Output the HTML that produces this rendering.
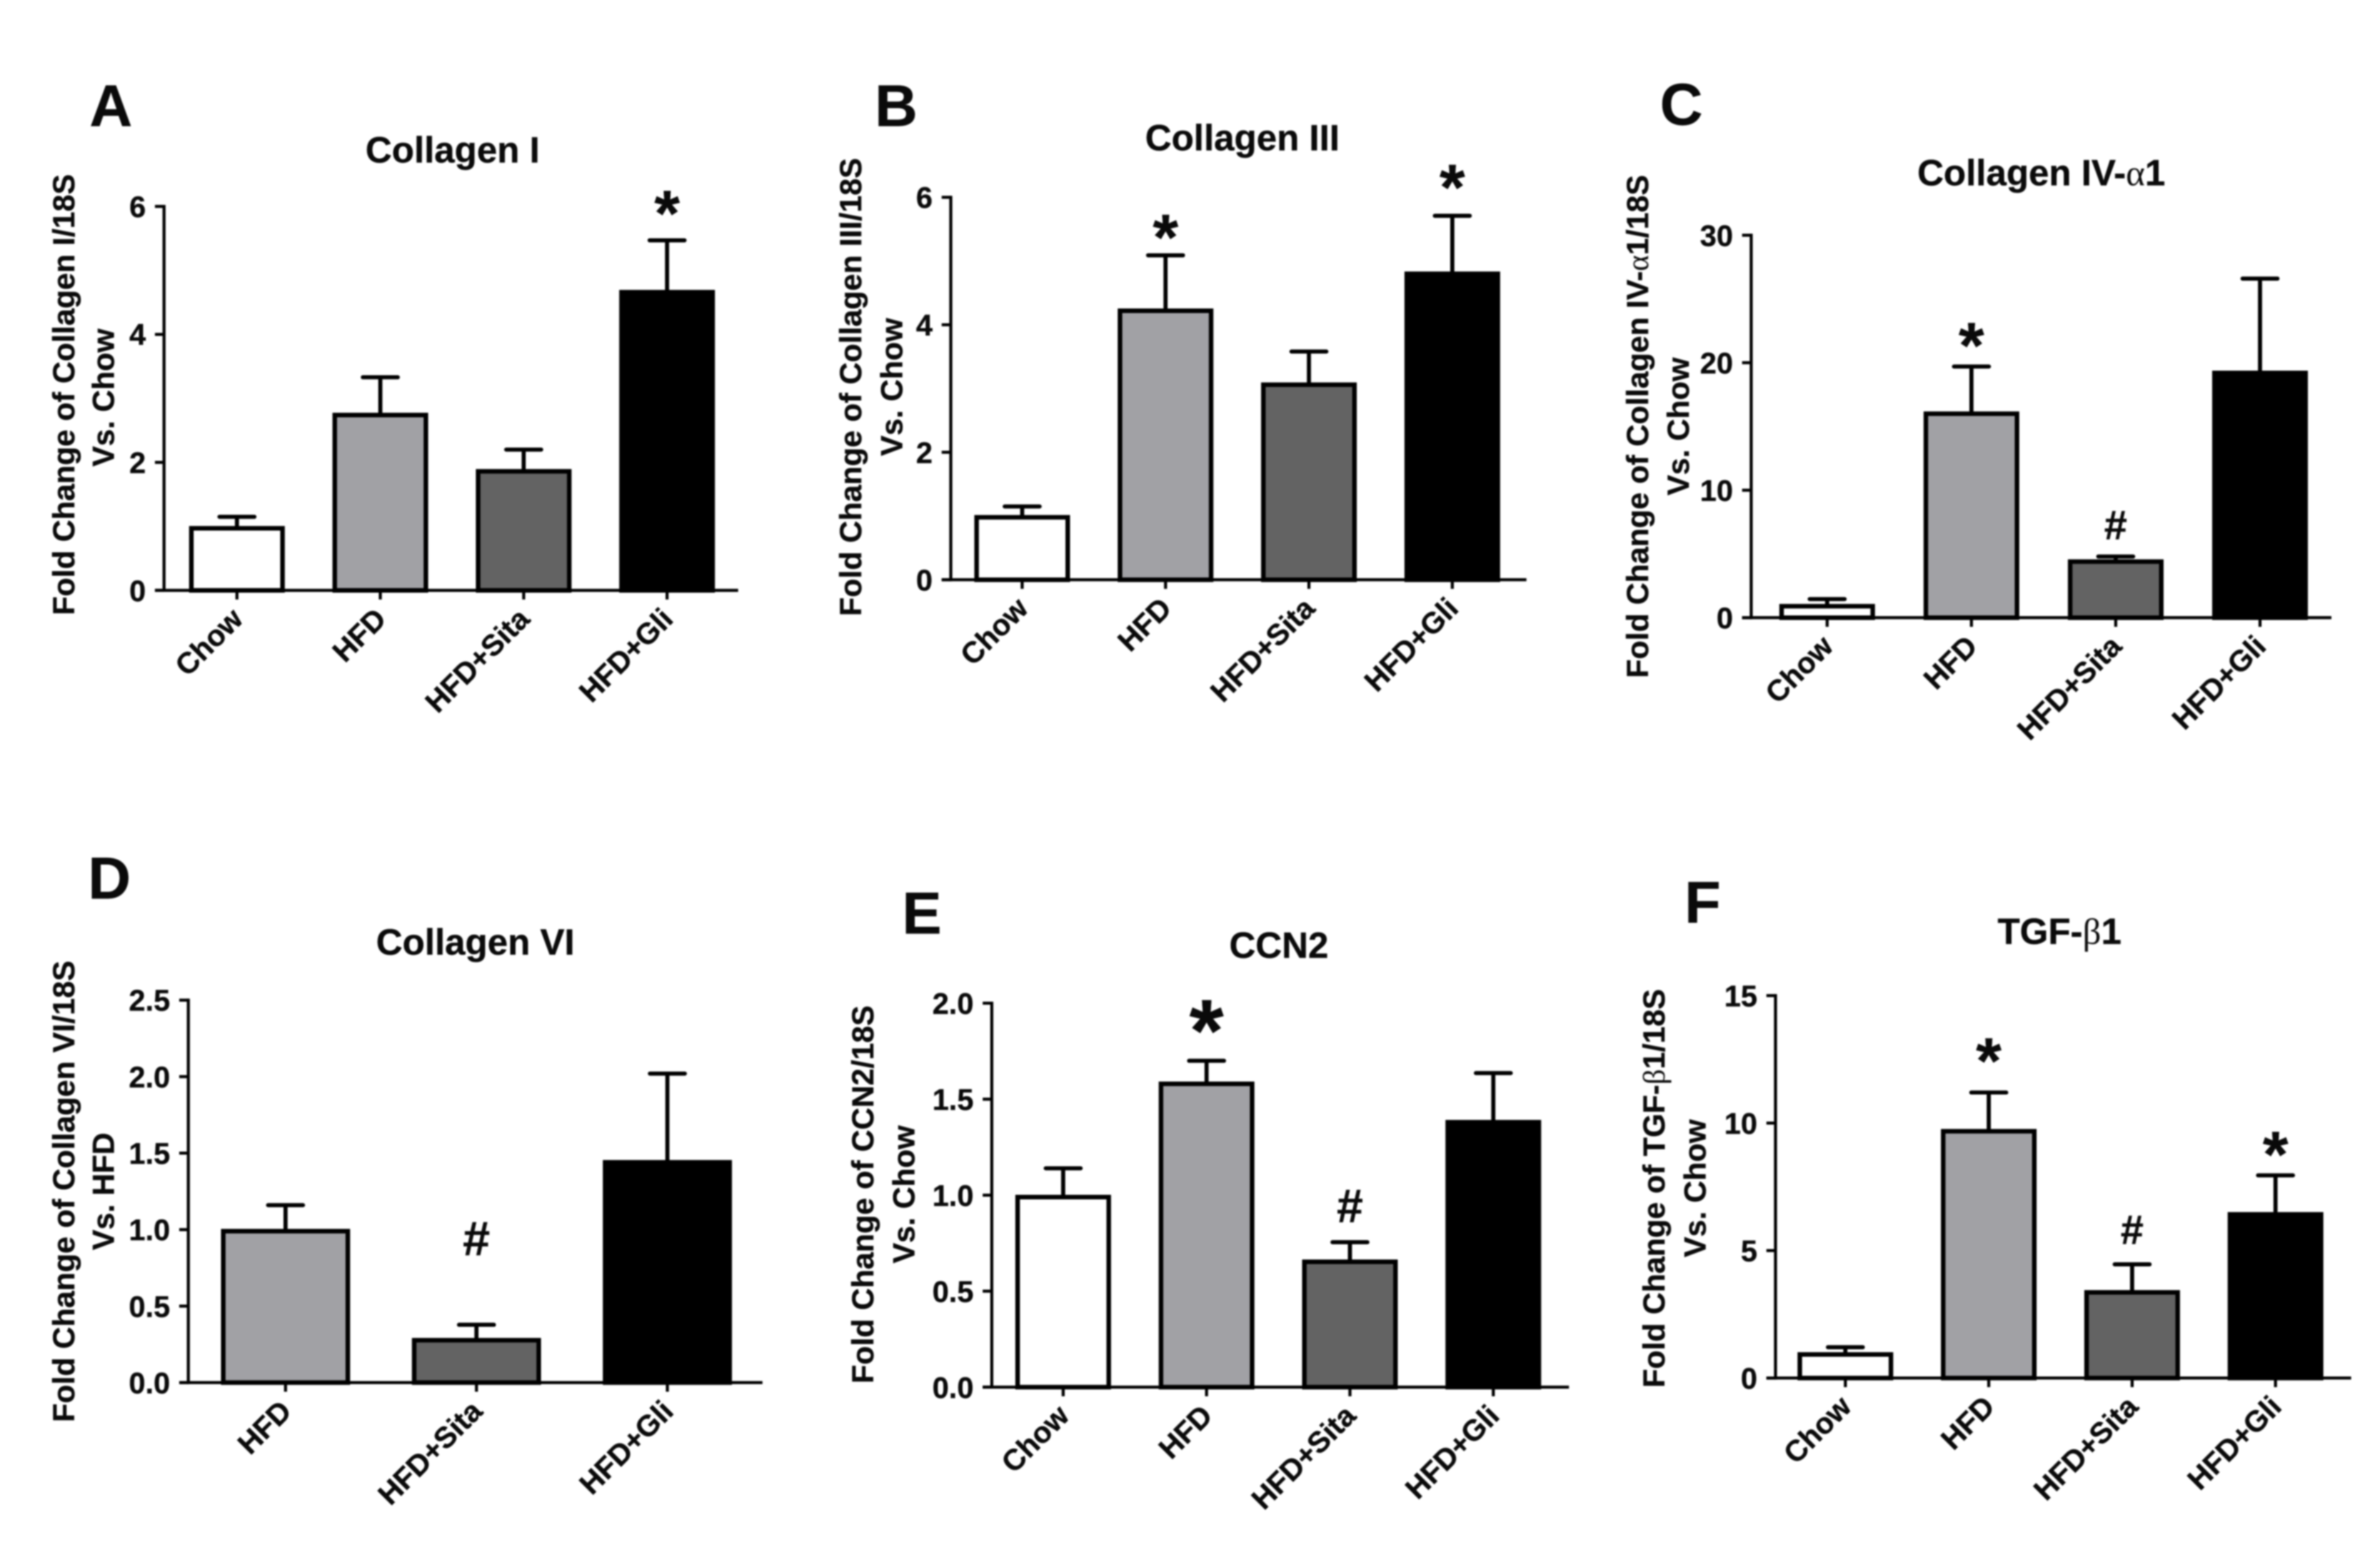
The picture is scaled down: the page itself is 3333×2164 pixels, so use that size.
<!DOCTYPE html>
<html lang="en">
<head>
<meta charset="utf-8">
<title>Fold change bar charts</title>
<style>
html,body{margin:0;padding:0;background:#fff;}
svg{display:block;width:3333px;height:2164px;filter:blur(1px);}
text{font-family:"Liberation Sans",Arial,sans-serif;font-weight:bold;fill:#0a0a0a;stroke:#0a0a0a;stroke-width:.2px;}
.letter{font-size:39px;text-anchor:middle;}
.title{font-size:24px;text-anchor:middle;}
.ylab{font-size:20.2px;text-anchor:middle;}
.greek{font-family:"Liberation Serif","DejaVu Serif",serif;font-weight:normal;stroke:none;}
</style>
</head>
<body>
<svg id="figure" viewBox="0 0 1567 1018" preserveAspectRatio="none" xmlns="http://www.w3.org/2000/svg">
<g id="panel-a">
  <text class="letter" x="73" y="83">A</text>
  <text class="title" x="298" y="107">Collagen I</text>
  <text class="ylab" transform="translate(49,260) rotate(-90)">Fold Change of Collagen I/18S</text>
  <text class="ylab" transform="translate(75,262) rotate(-90)">Vs. Chow</text>
</g>
<g id="panel-b">
  <text class="letter" x="590" y="83">B</text>
  <text class="title" x="818" y="99">Collagen III</text>
  <text class="ylab" transform="translate(567,255) rotate(-90)">Fold Change of Collagen III/18S</text>
  <text class="ylab" transform="translate(594,255) rotate(-90)">Vs. Chow</text>
</g>
<g id="panel-c">
  <text class="letter" x="1107" y="82">C</text>
  <text class="title" x="1344" y="122">Collagen IV-<tspan class="greek">α</tspan>1</text>
  <text class="ylab" transform="translate(1085,281) rotate(-90)">Fold Change of Collagen IV-<tspan class="greek">α</tspan>1/18S</text>
  <text class="ylab" transform="translate(1112,281) rotate(-90)">Vs. Chow</text>
</g>
<g id="panel-d">
  <text class="letter" x="72" y="592">D</text>
  <text class="title" x="313" y="629">Collagen VI</text>
  <text class="ylab" transform="translate(49,785) rotate(-90)">Fold Change of Collagen VI/18S</text>
  <text class="ylab" transform="translate(75,785) rotate(-90)">Vs. HFD</text>
</g>
<g id="panel-e">
  <text class="letter" x="607" y="615">E</text>
  <text class="title" x="842" y="631">CCN2</text>
  <text class="ylab" transform="translate(575,787) rotate(-90)">Fold Change of CCN2/18S</text>
  <text class="ylab" transform="translate(602,787) rotate(-90)">Vs. Chow</text>
</g>
<g id="panel-f">
  <text class="letter" x="1121" y="608">F</text>
  <text class="title" x="1356" y="622">TGF-<tspan class="greek">β</tspan>1</text>
  <text class="ylab" transform="translate(1096,783) rotate(-90)">Fold Change of TGF-<tspan class="greek">β</tspan>1/18S</text>
  <text class="ylab" transform="translate(1123,783) rotate(-90)">Vs. Chow</text>
</g>
</svg>
<script>
// ---- data ----
const categoriesA = ["Chow", "HFD", "HFD+Sita", "HFD+Gli"];
const valuesA = [0.97, 2.74, 1.86, 4.66];
const errorTopsA = [1.15, 3.33, 2.2, 5.47];
const yTicksA = ["0", "2", "4", "6"];

const categoriesB = ["Chow", "HFD", "HFD+Sita", "HFD+Gli"];
const valuesB = [0.98, 4.22, 3.06, 4.8];
const errorTopsB = [1.15, 5.09, 3.58, 5.71];
const yTicksB = ["0", "2", "4", "6"];

const categoriesC = ["Chow", "HFD", "HFD+Sita", "HFD+Gli"];
const valuesC = [0.9, 16.0, 4.4, 19.2];
const errorTopsC = [1.46, 19.7, 4.8, 26.6];
const yTicksC = ["0", "10", "20", "30"];

const categoriesD = ["HFD", "HFD+Sita", "HFD+Gli"];
const valuesD = [0.99, 0.277, 1.44];
const errorTopsD = [1.16, 0.378, 2.02];
const yTicksD = ["0.0", "0.5", "1.0", "1.5", "2.0", "2.5"];

const categoriesE = ["Chow", "HFD", "HFD+Sita", "HFD+Gli"];
const valuesE = [0.99, 1.58, 0.653, 1.38];
const errorTopsE = [1.14, 1.7, 0.755, 1.636];
const yTicksE = ["0.0", "0.5", "1.0", "1.5", "2.0"];

const categoriesF = ["Chow", "HFD", "HFD+Sita", "HFD+Gli"];
const valuesF = [0.925, 9.68, 3.36, 6.42];
const errorTopsF = [1.21, 11.2, 4.46, 7.95];
const yTicksF = ["0", "5", "10", "15"];

const fillByCategory = {"Chow": "#ffffff", "HFD": "#a1a1a5", "HFD+Sita": "#636363", "HFD+Gli": "#000000"};
const NS = "http://www.w3.org/2000/svg";

function make(parent, tag, attrs, txt) {
  const el = document.createElementNS(NS, tag);
  for (const k in attrs) el.setAttribute(k, attrs[k]);
  if (txt !== undefined) el.textContent = txt;
  parent.appendChild(el);
  return el;
}

function drawPanel(cfg) {
  const g = document.getElementById(cfg.id);
  const yMax = parseFloat(cfg.yTicks[cfg.yTicks.length - 1]);
  const yScale = v => cfg.bottom - (v / yMax) * (cfg.bottom - cfg.top);
  const xScale = i => cfg.x0 + i * cfg.step;

  cfg.categories.forEach((cat, i) => {
    const cx = xScale(i);
    const errLine = make(g, "line", {x1: cx, x2: cx, y1: yScale(cfg.values[i]), y2: yScale(cfg.errors[i]), stroke: "#000", "stroke-width": 2.7});
    
    
    const errCap = make(g, "line", {x1: cx - 11.5, x2: cx + 11.5, y1: yScale(cfg.errors[i]), y2: yScale(cfg.errors[i]), stroke: "#000", "stroke-width": 2.7, "stroke-linecap": "round"});
    
    
    const bar = make(g, "rect", {x: cx - cfg.barW / 2, width: cfg.barW, y: yScale(cfg.values[i]), height: cfg.bottom - yScale(cfg.values[i]), fill: fillByCategory[cat], stroke: "#000", "stroke-width": 3});
    
    
    const tick = make(g, "line", {x1: cx, x2: cx, y1: cfg.bottom, y2: cfg.bottom + 6, stroke: "#000", "stroke-width": 2});
    
    
    const lx = cx + 5, ly = cfg.bottom + 20;
    const lab = make(g, "text", {transform: "translate(" + lx + "," + ly + ") rotate(-45)", "text-anchor": "end", "font-size": 19.5}, cat);
    
    
  });

  const yAxis = make(g, "line", {x1: cfg.axisX, x2: cfg.axisX, y1: cfg.top - 1, y2: cfg.bottom + 1, stroke: "#000", "stroke-width": 2});
  
  
  const xAxis = make(g, "line", {x1: cfg.axisX - 6, x2: cfg.xEnd, y1: cfg.bottom, y2: cfg.bottom, stroke: "#000", "stroke-width": 2});
  
  

  cfg.yTicks.forEach(t => {
    const yy = yScale(parseFloat(t));
    const tick = make(g, "line", {x1: cfg.axisX - 6, x2: cfg.axisX, y1: yy, y2: yy, stroke: "#000", "stroke-width": 2});
    
    
    const lab = make(g, "text", {x: cfg.axisX - 12, y: yy + 7, "text-anchor": "end", "font-size": 19.5}, t);
    
    
  });

  cfg.marks.forEach(m => {
    const cy = yScale(cfg.errors[m.bar]) - m.gap;
    const baseline = m.sym === "*" ? cy + m.size * 0.485 : cy + m.size * 0.35;
    const mk = make(g, "text", {x: xScale(m.bar), y: baseline, "text-anchor": "middle", "font-size": m.size}, m.sym);
    
    
  });
}

drawPanel({id: "panel-a", categories: categoriesA, values: valuesA, errors: errorTopsA, yTicks: yTicksA,
  axisX: 108, top: 136, bottom: 389, xEnd: 486, x0: 156, step: 94.4, barW: 60,
  marks: [{bar: 3, sym: "*", size: 43, gap: 24}]});
drawPanel({id: "panel-b", categories: categoriesB, values: valuesB, errors: errorTopsB, yTicks: yTicksB,
  axisX: 626, top: 130, bottom: 382, xEnd: 1005, x0: 673, step: 94.4, barW: 60,
  marks: [{bar: 1, sym: "*", size: 43, gap: 18}, {bar: 3, sym: "*", size: 43, gap: 25}]});
drawPanel({id: "panel-c", categories: categoriesC, values: valuesC, errors: errorTopsC, yTicks: yTicksC,
  axisX: 1153, top: 155, bottom: 407, xEnd: 1535, x0: 1203, step: 95, barW: 60,
  marks: [{bar: 1, sym: "*", size: 43, gap: 20}, {bar: 2, sym: "#", size: 27, gap: 21}]});
drawPanel({id: "panel-d", categories: categoriesD, values: valuesD, errors: errorTopsD, yTicks: yTicksD,
  axisX: 124, top: 659, bottom: 911, xEnd: 502, x0: 188, step: 125.7, barW: 82,
  marks: [{bar: 1, sym: "#", size: 32, gap: 57}]});
drawPanel({id: "panel-e", categories: categoriesE, values: valuesE, errors: errorTopsE, yTicks: yTicksE,
  axisX: 653, top: 661, bottom: 914, xEnd: 1033, x0: 700, step: 94.4, barW: 60,
  marks: [{bar: 1, sym: "*", size: 58, gap: 28}, {bar: 2, sym: "#", size: 31, gap: 24}]});
drawPanel({id: "panel-f", categories: categoriesF, values: valuesF, errors: errorTopsF, yTicks: yTicksF,
  axisX: 1169, top: 656, bottom: 908, xEnd: 1548, x0: 1215, step: 94.4, barW: 60,
  marks: [{bar: 1, sym: "*", size: 43, gap: 27}, {bar: 2, sym: "#", size: 27, gap: 23}, {bar: 3, sym: "*", size: 43, gap: 20}]});
</script>
</body>
</html>
